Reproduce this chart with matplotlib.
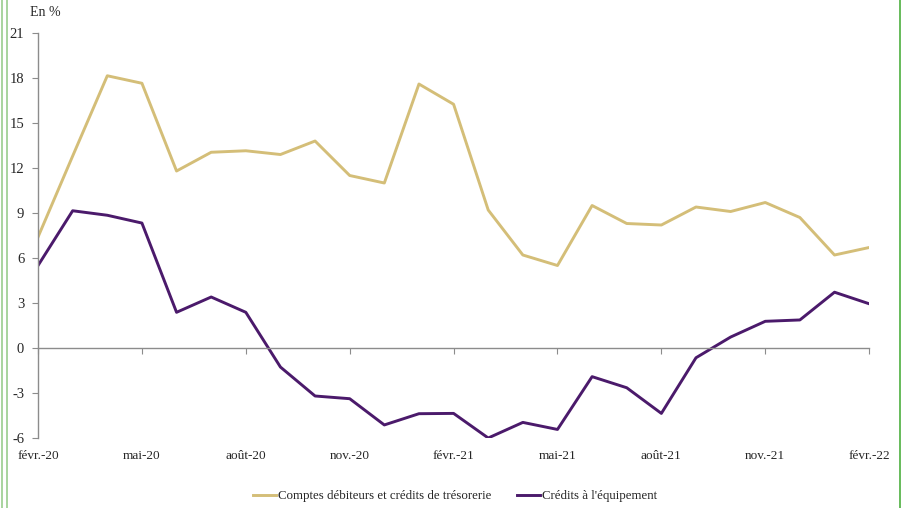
import matplotlib
matplotlib.use("Agg")
import matplotlib.pyplot as plt
from matplotlib.lines import Line2D

# ── Data (monthly, févr.-20 → févr.-22) ──────────────────────────────────────
months = ["févr.-20", "mars-20", "avr.-20", "mai-20", "juin-20", "juil.-20",
          "août-20", "sept.-20", "oct.-20", "nov.-20", "déc.-20", "janv.-21",
          "févr.-21", "mars-21", "avr.-21", "mai-21", "juin-21", "juil.-21",
          "août-21", "sept.-21", "oct.-21", "nov.-21", "déc.-21", "janv.-22",
          "févr.-22"]

tresorerie = [7.4, 12.8, 18.15, 17.65, 11.8, 13.05, 13.15, 12.9, 13.8, 11.5,
              11.0, 17.6, 16.25, 9.2, 6.2, 5.5, 9.5, 8.3, 8.2, 9.4, 9.1, 9.7,
              8.7, 6.2, 6.7]

equipement = [5.5, 9.15, 8.85, 8.33, 2.38, 3.4, 2.38, -1.27, -3.2, -3.38,
              -5.13, -4.38, -4.36, -6.0, -4.96, -5.43, -1.91, -2.65, -4.36,
              -0.65, 0.73, 1.78, 1.87, 3.72, 2.95]

label_tres = "Comptes débiteurs et crédits de trésorerie"
label_equip = "Crédits à l'équipement"

yticks = [-6, -3, 0, 3, 6, 9, 12, 15, 18, 21]
xtick_step = 3

# ── Style ────────────────────────────────────────────────────────────────────
C = {
    "tres":  "#D4BE78",
    "equip": "#4B1A6B",
    "axis":  "#8C8C8C",
    "text":  "#262626",
    "frame_l": "#9ACD8E",
    "frame_r": "#4DAF3E",
}
plt.rcParams["font.family"] = ["Liberation Serif", "DejaVu Serif"]
FS = 9.5

fig = plt.figure(figsize=(9.10, 5.08), dpi=100, facecolor="white")
ax = fig.add_axes([0.0418, 0.1378, 0.9133, 0.7972])

x = list(range(len(months)))
ax.plot(x, tresorerie, color=C["tres"], lw=2.1, label=label_tres)
ax.plot(x, equipement, color=C["equip"], lw=2.1, label=label_equip)

ax.set_xlim(0, len(months) - 1)
ax.set_ylim(yticks[0], yticks[-1])
ax.set_yticks(yticks)
ax.set_yticklabels([str(v) for v in yticks])

for s in ("top", "right"):
    ax.spines[s].set_visible(False)
ax.spines["left"].set_color(C["axis"])
ax.spines["left"].set_linewidth(1.0)
ax.spines["bottom"].set_position(("data", 0))
ax.spines["bottom"].set_color(C["axis"])
ax.spines["bottom"].set_linewidth(1.0)

tick_pos = x[::xtick_step]
ax.set_xticks(tick_pos)
ax.tick_params(axis="x", direction="out", length=4, color=C["axis"],
               labelbottom=False)
ax.tick_params(axis="y", direction="out", length=4, color=C["axis"],
               labelsize=10.5, labelcolor=C["text"], pad=6)

# month labels sit under the plot area, not on the zero line
sec = ax.secondary_xaxis(0)
sec.set_xticks(tick_pos)
sec.set_xticklabels([months[i] for i in tick_pos])
sec.tick_params(length=0, labelsize=FS, labelcolor=C["text"], pad=9)
sec.spines["bottom"].set_visible(False)

fig.text(0.0495, 0.975, "En %", ha="center", va="center",
         fontsize=10, color=C["text"])

fig.legend(loc="center", bbox_to_anchor=(0.5, 0.023), ncol=2, frameon=False,
           fontsize=9.3, handlelength=1.75, handletextpad=0.15,
           columnspacing=2.0, labelcolor=C["text"])

# green frame edges
fig.add_artist(Line2D([0.002, 0.002], [0, 1], transform=fig.transFigure,
                      color=C["frame_l"], lw=1.2))
fig.add_artist(Line2D([0.008, 0.008], [0, 1], transform=fig.transFigure,
                      color=C["frame_l"], lw=1.2))
fig.add_artist(Line2D([0.9895, 0.9895], [0, 1], transform=fig.transFigure,
                      color=C["frame_r"], lw=1.2))

fig.savefig("out.png", dpi=100, facecolor="white")
